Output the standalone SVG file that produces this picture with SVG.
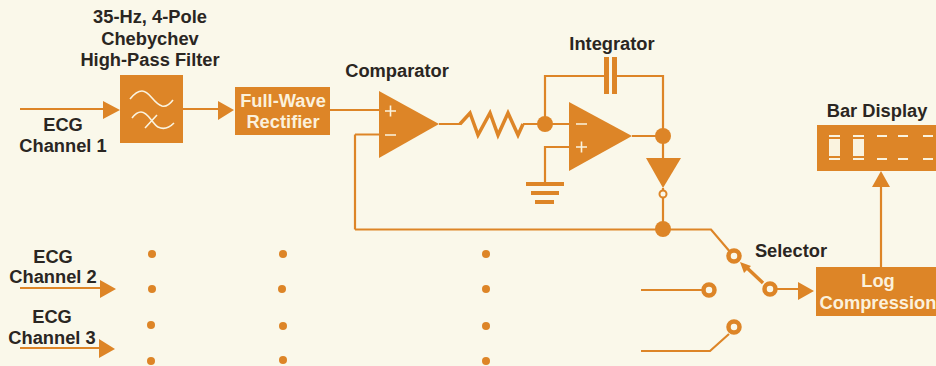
<svg xmlns="http://www.w3.org/2000/svg" width="936" height="366" viewBox="0 0 936 366">
<style>
.t{font-family:"Liberation Sans",Arial,sans-serif;font-weight:700;font-size:18.3px;fill:#2a2622;text-anchor:middle}
.w{fill:#fbf1dc;font-size:18.3px}
.o{fill:#dd8527}
.l{fill:none;stroke:#dd8527;stroke-width:2.2}
.c{fill:#faf8ea;stroke:#dd8527;stroke-width:4.5}
.s{fill:none;stroke:#faf3df;stroke-width:1.6}
.b{fill:none;stroke:#faf3df;stroke-width:2}
</style>
<rect width="936" height="366" fill="#faf8ea"/>
<g id="connectors">
<path class="l" d="M20 109H104M183 109H218M330 110H379M355 134.500V229.500M355 134.500H379M439 124H461M523 124H569M545 124V76H604M617 76H663V158M632 136H663M663 188V229M355 229.500H711L731 253M569 147H545V184M770 289H800M881 267V187M641 290H702M641 351H710L729 334M20 288H100M20 348H100"/>
<path d="M460 124L470 113L478 135L490 113L498 135L508 113L518 135L523 124" fill="none" stroke="#dd8527" stroke-width="3.500" stroke-linejoin="miter"/>
<path d="M763 283L745 266" fill="none" stroke="#dd8527" stroke-width="3.500"/>
<path class="o" d="M103 101L120 110L103 119ZM218 101L234 110L218 120ZM100 280L116 289L100 298ZM99 339L115 349L99 358ZM798 282L814 291L798 300ZM872 187L881 171L890 187ZM740 262L751 266L744 273Z"/>
</g>
<g id="filter">
<rect class="o" x="120" y="75" width="63" height="68"/>
<path class="s" d="M130 99C134 94 138 91 142 91C150 91 153 103 162 106C166 107 170 104 173 100M132 118C135 114 138 112 141 112C148 112 152 123 158 127C164 130 169 128 174 123M145 128L157 115"/>
<text class="t" x="150" y="23">35-Hz, 4-Pole</text>
<text class="t" x="150" y="45">Chebychev</text>
<text class="t" x="150" y="66">High-Pass Filter</text>
</g>
<g id="channel1-label">
<text class="t" x="63" y="131">ECG</text>
<text class="t" x="63" y="152">Channel 1</text>
</g>
<g id="rectifier">
<rect class="o" x="235" y="87" width="95" height="48"/>
<text class="t w" x="283" y="107">Full-Wave</text>
<text class="t w" x="283" y="128">Rectifier</text>
</g>
<g id="comparator">
<path class="o" d="M379 91V158L439 124Z"/>
<path class="s" d="M385 111H396M390.500 105.500V116.500M385 135H396"/>
<text class="t" x="397" y="77">Comparator</text>
</g>
<g id="integrator">
<path class="o" d="M569 102V171L632 136Z"/>
<path class="s" d="M576 124H587M576 147H587M581.500 141.500V152.500"/>
<rect class="o" x="604" y="57" width="5" height="37"/>
<rect class="o" x="612" y="57" width="5" height="37"/>
<circle class="o" cx="545" cy="124" r="8"/>
<circle class="o" cx="663" cy="136" r="8"/>
<text class="t" x="612" y="50">Integrator</text>
</g>
<g id="ground">
<rect class="o" x="526" y="182" width="38" height="4"/>
<rect class="o" x="531" y="191" width="28" height="4"/>
<rect class="o" x="535" y="200" width="19" height="4"/>
</g>
<g id="diode">
<path class="o" d="M646 158H681L663 188Z"/>
<circle cx="663" cy="194" r="3.500" fill="#faf8ea" stroke="#dd8527" stroke-width="2"/>
<circle class="o" cx="663" cy="229" r="8"/>
</g>
<g id="selector">
<circle class="c" cx="734" cy="256" r="5.500"/>
<circle class="c" cx="770" cy="289" r="5.500"/>
<circle class="c" cx="709" cy="290" r="5.500"/>
<circle class="c" cx="734" cy="327" r="5.500"/>
<text class="t" x="791" y="257">Selector</text>
</g>
<g id="log-compression">
<rect class="o" x="816" y="267" width="120" height="49"/>
<text class="t w" x="878" y="287">Log</text>
<text class="t w" x="878" y="309">Compression</text>
</g>
<g id="bar-display">
<rect class="o" x="817" y="125" width="119" height="46"/>
<path class="b" d="M829 136H840M829 159H840M853 136H864M853 159H864M877 136H887M898 136H908M923 136H933M877 159H887M898 159H908M923 159H933"/>
<rect x="829" y="139" width="11" height="17" fill="#faf3df"/>
<rect x="853" y="139" width="11" height="17" fill="#faf3df"/>
<text class="t" x="877" y="117">Bar Display</text>
</g>
<g id="channel-labels">
<text class="t" x="53" y="263">ECG</text>
<text class="t" x="53" y="283">Channel 2</text>
<text class="t" x="52" y="323">ECG</text>
<text class="t" x="52" y="344">Channel 3</text>
</g>
<g id="dots" class="o">
<circle cx="152" cy="254" r="4"/><circle cx="152" cy="289" r="4"/><circle cx="151" cy="325" r="4"/><circle cx="151" cy="361" r="4"/>
<circle cx="283" cy="254" r="4"/><circle cx="282" cy="289" r="4"/><circle cx="283" cy="326" r="4"/><circle cx="283" cy="360" r="4"/>
<circle cx="486" cy="254" r="4"/><circle cx="486" cy="289" r="4"/><circle cx="486" cy="326" r="4"/><circle cx="486" cy="361" r="4"/>
</g>
</svg>
